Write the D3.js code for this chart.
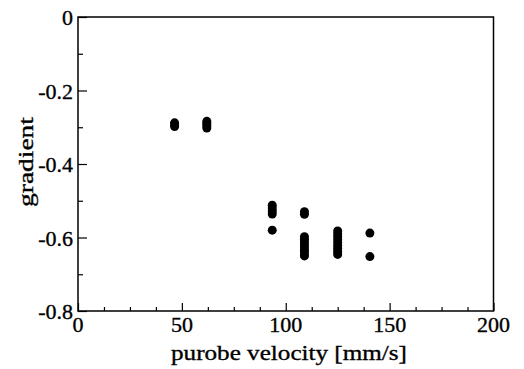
<!DOCTYPE html>
<html>
<head>
<meta charset="utf-8">
<script src="https://cdn.jsdelivr.net/npm/d3@7"></script>
<style>
html,body{margin:0;padding:0;background:#fff;}
svg{display:block;}
text{font-family:"Liberation Serif","Times New Roman",serif;fill:#000;stroke:#000;stroke-width:0.35px;}
</style>
</head>
<body>
<svg id="chart" width="524" height="369"></svg>
<script>
// Data
const velocity = [
  46.5, 46.5, 46.5,
  62, 62, 62, 62,
  93.5, 93.5, 93.5, 93.5, 93.5,
  109, 109, 109, 109, 109, 109, 109, 109, 109, 109,
  125, 125, 125, 125, 125, 125, 125, 125, 125,
  140.5, 140.5
];
const gradient = [
  -0.288, -0.293, -0.298,
  -0.284, -0.290, -0.296, -0.302,
  -0.512, -0.520, -0.528, -0.536, -0.580,
  -0.530, -0.537, -0.598, -0.605, -0.612, -0.620, -0.628, -0.635, -0.642, -0.650,
  -0.582, -0.590, -0.598, -0.606, -0.614, -0.622, -0.630, -0.638, -0.646,
  -0.588, -0.652
];
const xTicks = [0, 50, 100, 150, 200];
const xMinor = [12.5, 25, 37.5, 62.5, 75, 87.5, 112.5, 125, 137.5, 162.5, 175, 187.5];
const yTicks = [0, -0.2, -0.4, -0.6, -0.8];
const yMinor = [-0.1, -0.3, -0.5, -0.7];
const xTitle = "purobe velocity [mm/s]";
const yTitle = "gradient";

const svg = d3.select("#chart");
const L = 78, R = 493.5, T = 17, B = 311;
const x = d3.scaleLinear().domain([0, 200]).range([L, R]);
const y = d3.scaleLinear().domain([-0.8, 0]).range([B, T]);

// frame
svg.append("rect").attr("x", L).attr("y", T).attr("width", R - L).attr("height", B - T)
  .attr("fill", "none").attr("stroke", "#000").attr("stroke-width", 1.5);

// inward ticks
const xAx = svg.append("g").attr("transform", `translate(0,${B})`)
  .call(d3.axisTop(x).tickValues(xTicks).tickSize(8).tickFormat(""));
const xAxMinor = svg.append("g").attr("transform", `translate(0,${B})`)
  .call(d3.axisTop(x).tickValues(xMinor).tickSize(4).tickFormat(""));
const yAx = svg.append("g").attr("transform", `translate(${L},0)`)
  .call(d3.axisRight(y).tickValues(yTicks).tickSize(9).tickFormat(""));
const yAxMinor = svg.append("g").attr("transform", `translate(${L},0)`)
  .call(d3.axisRight(y).tickValues(yMinor).tickSize(5).tickFormat(""));
[xAx, xAxMinor, yAx, yAxMinor].forEach(g => {
  g.select(".domain").remove();
  g.selectAll("line").attr("stroke", "#000").attr("stroke-width", 1.2);
});

// tick labels
svg.append("g").selectAll("text").data(xTicks).join("text")
  .attr("x", d => x(d)).attr("y", 332)
  .attr("text-anchor", "middle").attr("font-size", 22)
  .text(d => d);
svg.append("g").selectAll("text").data(yTicks).join("text")
  .attr("x", 73).attr("y", d => y(d) + 8)
  .attr("text-anchor", "end").attr("font-size", 22)
  .text(d => d === 0 ? "0" : d.toFixed(1));

// axis titles
svg.append("text").attr("x", 289).attr("y", 360)
  .attr("text-anchor", "middle").attr("font-size", 22)
  .attr("textLength", 236).attr("lengthAdjust", "spacingAndGlyphs").text(xTitle);
svg.append("text").attr("transform", "translate(33,162) rotate(-90)")
  .attr("text-anchor", "middle").attr("font-size", 22)
  .attr("textLength", 90).attr("lengthAdjust", "spacingAndGlyphs").text(yTitle);

// points
svg.append("g").selectAll("circle").data(velocity.map((v, i) => [v, gradient[i]])).join("circle")
  .attr("cx", d => x(d[0])).attr("cy", d => y(d[1])).attr("r", 4.5).attr("fill", "#000");
</script>
</body>
</html>
